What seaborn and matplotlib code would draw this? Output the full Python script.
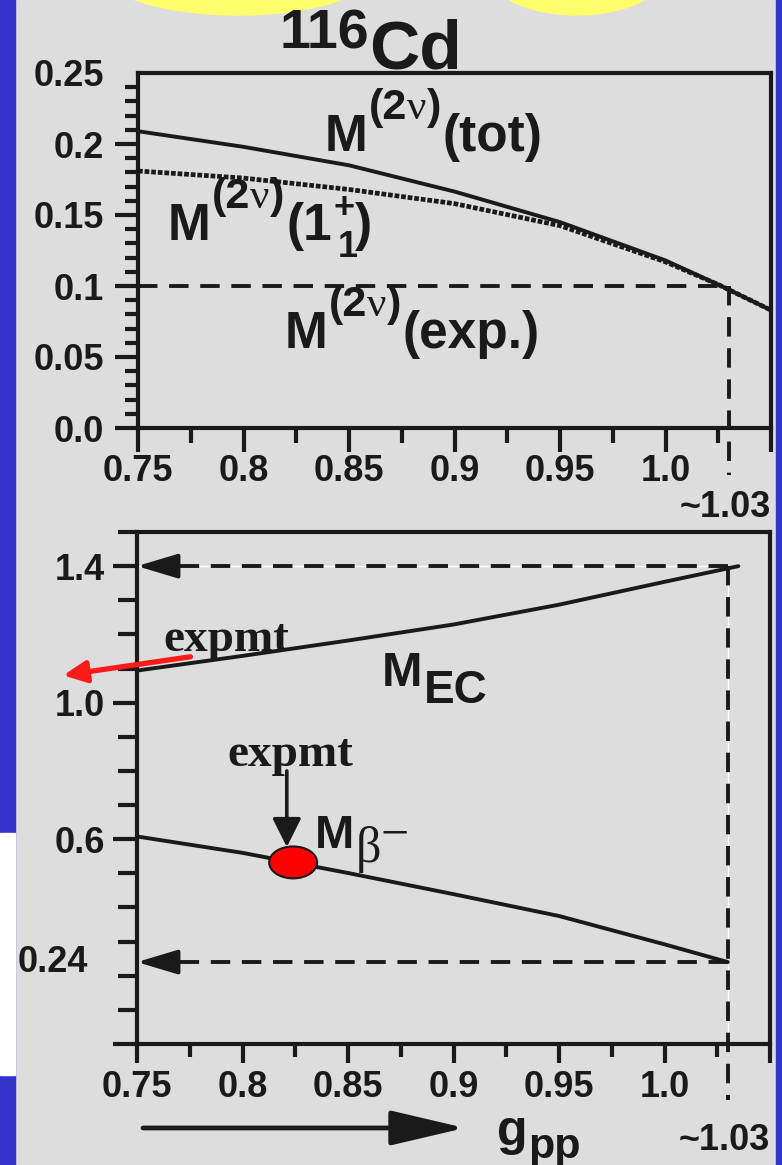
import matplotlib
matplotlib.use("Agg")
import matplotlib.pyplot as plt
import numpy as np
import pandas as pd
import seaborn as sns
from matplotlib.patches import Ellipse, Rectangle
from matplotlib.ticker import MultipleLocator, FixedLocator
import matplotlib.transforms as mtransforms

# ---------------- data ----------------
# upper panel: 2-neutrino matrix elements vs g_pp
gpp_upper = [0.75, 0.80, 0.85, 0.90, 0.95, 1.00, 1.025, 1.05]
m2nu_tot = [0.209, 0.198, 0.185, 0.1665, 0.145, 0.118, 0.101, 0.083]
m2nu_1plus = [0.181, 0.176, 0.168, 0.158, 0.1425, 0.117, 0.101, 0.083]
m2nu_exp = 0.10
gpp_fit = 1.03

# lower panel: single-beta matrix elements vs g_pp
gpp_ec = [0.75, 0.80, 0.85, 0.90, 0.95, 1.00, 1.035]
m_ec = [1.094, 1.137, 1.182, 1.229, 1.287, 1.354, 1.40]
gpp_beta = [0.75, 0.80, 0.85, 0.90, 0.95, 1.00, 1.03]
m_beta = [0.608, 0.560, 0.501, 0.439, 0.375, 0.292, 0.24]
m_ec_fit = 1.4
m_beta_fit = 0.24
m_ec_exp = 1.08
m_beta_exp_gpp, m_beta_exp = 0.824, 0.532

x_ticks = [0.75, 0.80, 0.85, 0.90, 0.95, 1.00, 1.05]
x_ticklabels = ["0.75", "0.8", "0.85", "0.9", "0.95", "1.0", ""]
upper_yticks = [0.0, 0.05, 0.10, 0.15, 0.20, 0.25]
upper_yticklabels = ["0.0", "0.05", "0.1", "0.15", "0.2", "0.25"]
lower_yticks = [0.0, 0.6, 1.0, 1.4]
lower_yticklabels = ["", "0.6", "1.0", "1.4"]

# ---------------- style ----------------
sns.set_theme(style="ticks")
SANS = ["Liberation Sans", "DejaVu Sans"]
SERIF = ["Liberation Serif", "DejaVu Serif"]
plt.rcParams["font.family"] = SANS
plt.rcParams["font.weight"] = "bold"
plt.rcParams["axes.linewidth"] = 3
for key in ("text.color", "axes.labelcolor", "xtick.color", "ytick.color",
            "xtick.labelcolor", "ytick.labelcolor", "axes.edgecolor"):
    plt.rcParams[key] = "black"

BG = "#DDDDDD"
BLUE = "#3333CC"
YELLOW = "#FFFF6E"
W, H = 782, 1165

fig = plt.figure(figsize=(W / 100, H / 100), dpi=100)
fig.patch.set_facecolor(BG)

# frame decorations
fig.add_artist(Rectangle((0, 0), 15 / W, 1, transform=fig.transFigure, color=BLUE, zorder=0))
fig.add_artist(Rectangle((0, (H - 1075) / H), 15 / W, (1075 - 833) / H,
                         transform=fig.transFigure, color="white", zorder=0))
fig.add_artist(Rectangle((776 / W, 0), 6 / W, 1, transform=fig.transFigure, color=BLUE, zorder=0))
fig.add_artist(Ellipse((2.38, (H + 30) / 100), 2.75, 0.9, transform=fig.dpi_scale_trans,
                       color=YELLOW, zorder=0))
fig.add_artist(Ellipse((5.77, (H + 30) / 100), 1.8, 0.9, transform=fig.dpi_scale_trans,
                       color=YELLOW, zorder=0))

ax1 = fig.add_axes([138 / W, (H - 428) / H, 633 / W, 355 / H])
ax2 = fig.add_axes([137 / W, (H - 1044) / H, 633 / W, 512 / H])
for ax in (ax1, ax2):
    ax.set_facecolor("none")
    for s in ax.spines.values():
        s.set_linewidth(3)
        s.set_color("k")
        s.set_visible(True)


def rich(ax, x, y, pieces, transform):
    """Draw a run of text pieces sharing one baseline.
    pieces: (text, size, family, weight, baseline_shift_pt, gap_pt)"""
    t0, s0, f0, w0, _, _ = pieces[0]
    first = ax.text(x, y, t0, transform=transform, fontsize=s0, family=f0,
                    fontweight=w0, ha="left", va="baseline", clip_on=False, zorder=6,
                    color="k")
    d0 = 0.212 * s0
    prev = first
    out = [first]
    for text, size, fam, weight, shift, gap in pieces[1:]:
        a = ax.annotate(text, xy=(1, 0), xycoords=(prev, first),
                        xytext=(gap, d0 + shift), textcoords="offset points",
                        fontsize=size, family=fam, fontweight=weight, color="k",
                        ha="left", va="baseline", annotation_clip=False, zorder=6)
        prev = a
        out.append(a)
    return out


dash_kw = dict(color="k", lw=2.8, dashes=(5.0, 3.0), solid_capstyle="butt")

# ---------------- upper panel ----------------
df_upper = pd.DataFrame({"gpp": gpp_upper, "tot": m2nu_tot, "one": m2nu_1plus})
sns.lineplot(data=df_upper, x="gpp", y="one", ax=ax1, color="k", lw=3.4,
             linestyle=(0, (1.0, 0.4)), zorder=3)
sns.lineplot(data=df_upper, x="gpp", y="tot", ax=ax1, color="k", lw=2.8, zorder=4)
ax1.plot([x_ticks[0], gpp_fit], [m2nu_exp, m2nu_exp], **dash_kw)
ax1.plot([gpp_fit, gpp_fit], [m2nu_exp, -0.033], clip_on=False, **dash_kw)

ax1.set_xlim(0.75, 1.05)
ax1.set_ylim(0.0, 0.25)
ax1.set_xlabel("")
ax1.set_ylabel("")
ax1.xaxis.set_major_locator(FixedLocator(x_ticks))
ax1.set_xticklabels(x_ticklabels)
ax1.xaxis.set_minor_locator(MultipleLocator(0.025))
ax1.yaxis.set_major_locator(FixedLocator(upper_yticks))
ax1.set_yticklabels(upper_yticklabels)
ax1.yaxis.set_minor_locator(MultipleLocator(0.01))
ax1.tick_params(axis="x", which="major", direction="out", length=17, width=3, pad=2,
                labelsize=26, colors="k")
ax1.tick_params(axis="x", which="minor", direction="out", length=11, width=3, colors="k")
ax1.tick_params(axis="y", which="major", direction="out", length=16.5, width=3, pad=8,
                labelsize=26, colors="k")
ax1.tick_params(axis="y", which="minor", direction="out", length=9.5, width=3, colors="k")
ax1.yaxis.get_major_ticks()[-1].tick1line.set_visible(False)
for lab in ax1.get_xticklabels() + ax1.get_yticklabels():
    lab.set_fontweight("bold")

big, small, sup = 37, 31, 23
rich(ax1, 0.295, 0.780, [
    ("M", big, SANS, "bold", 0, 0),
    ("(2", small, SANS, "bold", sup, 1),
    ("\u03bd", small, SERIF, "normal", sup, 0),
    (")", small, SANS, "bold", sup, 0),
    ("(tot)", big, SANS, "bold", 0, 1),
], ax1.transAxes)

p1 = rich(ax1, 0.047, 0.530, [
    ("M", big, SANS, "bold", 0, 0),
    ("(2", small, SANS, "bold", sup, 1),
    ("\u03bd", small, SERIF, "normal", sup, 0),
    (")", small, SANS, "bold", sup, 0),
    ("(1", big, SANS, "bold", 0, 2),
], ax1.transAxes)
base = p1[0]
plus = ax1.annotate("+", xy=(1, 0), xycoords=(p1[-1], base), xytext=(1, 0.212 * big + 16),
                    textcoords="offset points", fontsize=26, fontweight="bold", color="k",
                    ha="left", va="baseline", annotation_clip=False)
ax1.annotate("1", xy=(1, 0), xycoords=(p1[-1], base), xytext=(4, 0.212 * big - 12),
             textcoords="offset points", fontsize=26, fontweight="bold", color="k",
             ha="left", va="baseline", annotation_clip=False)
ax1.annotate(")", xy=(1, 0), xycoords=(plus, base), xytext=(0, 0.212 * big),
             textcoords="offset points", fontsize=big, fontweight="bold", color="k",
             ha="left", va="baseline", annotation_clip=False)

rich(ax1, 0.232, 0.225, [
    ("M", big, SANS, "bold", 0, 0),
    ("(2", small, SANS, "bold", sup, 1),
    ("\u03bd", small, SERIF, "normal", sup, 0),
    (")", small, SANS, "bold", sup, 0),
    ("(exp.)", big, SANS, "bold", 0, 1),
], ax1.transAxes)

# title
rich(ax1, 0.2243, 1.0704, [
    ("116", 40, SANS, "bold", 0, 0),
    ("Cd", 50, SANS, "bold", -14.5, 0),
], ax1.transAxes)

ax1.text(1.0, -0.225, "~1.03", transform=ax1.transAxes, ha="right", va="center",
         fontsize=26, fontweight="bold", color="k")

# ---------------- lower panel ----------------
df_ec = pd.DataFrame({"gpp": gpp_ec, "M": m_ec})
df_beta = pd.DataFrame({"gpp": gpp_beta, "M": m_beta})
sns.lineplot(data=df_ec, x="gpp", y="M", ax=ax2, color="k", lw=2.8, zorder=4)
sns.lineplot(data=df_beta, x="gpp", y="M", ax=ax2, color="k", lw=2.8, zorder=4)

# guide lines to the fitted g_pp
ax2.plot([gpp_fit, x_ticks[0]], [m_ec_fit, m_ec_fit], color="white", lw=1.0, zorder=2)
ax2.plot([gpp_fit, gpp_fit], [m_ec_fit, 0.0], color="white", lw=1.0, zorder=2)
ax2.plot([gpp_fit, x_ticks[0] + 0.015], [m_ec_fit, m_ec_fit], zorder=3, **dash_kw)
ax2.plot([gpp_fit, x_ticks[0] + 0.015], [m_beta_fit, m_beta_fit], zorder=3, **dash_kw)
ax2.plot([gpp_fit, gpp_fit], [m_ec_fit, -0.164], clip_on=False, zorder=3, **dash_kw)
head = dict(arrowstyle="-|>,head_length=1.0,head_width=0.3", color="k", lw=2.8,
            mutation_scale=25, shrinkA=0, shrinkB=0)
for yv in (m_ec_fit, m_beta_fit):
    ax2.annotate("", xy=(x_ticks[0], yv), xytext=(x_ticks[0] + 0.02, yv), arrowprops=head)

ax2.set_xlim(0.75, 1.05)
ax2.set_ylim(0.0, 1.5)
ax2.set_xlabel("")
ax2.set_ylabel("")
ax2.xaxis.set_major_locator(FixedLocator(x_ticks))
ax2.set_xticklabels(x_ticklabels)
ax2.xaxis.set_minor_locator(MultipleLocator(0.025))
ax2.yaxis.set_major_locator(FixedLocator(lower_yticks))
ax2.set_yticklabels(lower_yticklabels)
ax2.yaxis.set_minor_locator(MultipleLocator(0.1))
ax2.tick_params(axis="x", which="major", direction="out", length=14, width=3, pad=5,
                labelsize=26, colors="k")
ax2.tick_params(axis="x", which="minor", direction="out", length=9.5, width=3, colors="k")
ax2.tick_params(axis="y", which="major", direction="out", length=17, width=3, pad=6,
                labelsize=26, colors="k")
ax2.tick_params(axis="y", which="minor", direction="out", length=13.5, width=3, colors="k")
for lab in ax2.get_xticklabels() + ax2.get_yticklabels():
    lab.set_fontweight("bold")

ylab_tr = mtransforms.blended_transform_factory(ax2.transAxes, ax2.transData)
ax2.text(-0.077, m_beta_fit, "0.24", transform=ylab_tr, ha="right", va="center",
         fontsize=26, fontweight="bold", color="k")

# experimental values
ax2.annotate("", xy=(0.715, m_ec_exp), xytext=(0.7753, 1.1345),
             arrowprops=dict(arrowstyle="-|>,head_length=0.55,head_width=0.26",
                             color="#FF1A1A", lw=3.8, mutation_scale=25,
                             shrinkA=0, shrinkB=0),
             annotation_clip=False, zorder=5)
ax2.text(0.1406, 0.768, "expmt", transform=ax2.transAxes, ha="center", va="baseline",
         fontsize=34, family=SERIF, fontweight="bold", color="k", zorder=6)

ax2.add_patch(Ellipse((m_beta_exp_gpp, m_beta_exp), 48 / 2113, 32 / 342,
                      facecolor="#FF0000", edgecolor="k", lw=1.5, zorder=5))
ax2.annotate("", xy=(m_beta_exp_gpp - 0.003, m_beta_exp + 0.045),
             xytext=(m_beta_exp_gpp - 0.003, 0.80),
             arrowprops=dict(arrowstyle="-|>,head_length=0.7,head_width=0.35",
                             color="k", lw=2.6, mutation_scale=25, shrinkA=0, shrinkB=0),
             zorder=5)
ax2.text(0.2417, 0.5439, "expmt", transform=ax2.transAxes, ha="center", va="baseline",
         fontsize=34, family=SERIF, fontweight="bold", color="k", zorder=6)

rich(ax2, 0.387, 0.700, [
    ("M", 35, SANS, "bold", 0, 0),
    ("EC", 33, SANS, "bold", -13, 1),
], ax2.transAxes)
rich(ax2, 0.281, 0.382, [
    ("M", 34, SANS, "bold", 0, 0),
    ("\u03b2", 36, SERIF, "normal", -10, 1),
    ("\u2212", 36, SERIF, "normal", 0, 0),
], ax2.transAxes)

# x-axis label with direction arrow
rich(ax2, 0.569, -0.197, [
    ("g", 36, SANS, "bold", 0, 0),
    ("pp", 31, SANS, "bold", -10, 0),
], ax2.transAxes)
ax2.annotate("", xy=(0.518, -0.164), xytext=(0.0095, -0.164), xycoords="axes fraction",
             textcoords="axes fraction",
             arrowprops=dict(arrowstyle="-|>,head_length=1.15,head_width=0.27",
                             color="k", lw=3.4, mutation_scale=40, shrinkA=0, shrinkB=0),
             annotation_clip=False)
ax2.text(1.0, -0.188, "~1.03", transform=ax2.transAxes, ha="right", va="center",
         fontsize=26, fontweight="bold", color="k")

fig.savefig("out.png", dpi=100, facecolor=fig.get_facecolor())
